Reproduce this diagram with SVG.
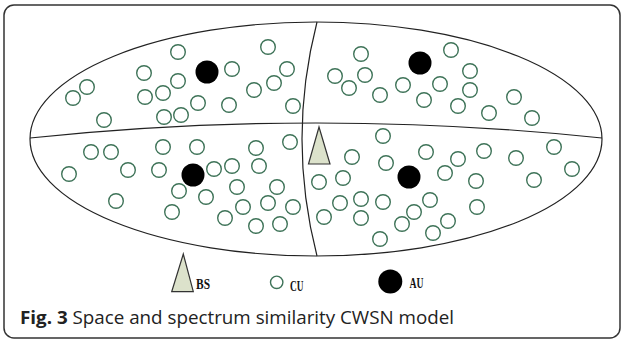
<svg xmlns="http://www.w3.org/2000/svg" width="624" height="341" viewBox="0 0 624 341">
<style>
.frame{fill:#fff;stroke:#333;stroke-width:1.5}
.line{fill:none;stroke:#222;stroke-width:1.2}
.cu{fill:#fff;stroke:#3e7358;stroke-width:1.4}
.au{fill:#000}
.bs{fill:#dce2cb;stroke:#333;stroke-width:1.2;stroke-linejoin:miter}
.lg{font-family:"Liberation Serif",serif;font-size:15px;font-weight:bold;fill:#111}
.cap{font-family:"Open Sans","Liberation Sans",sans-serif;font-size:18px;fill:#222}
</style>
<defs>
<circle id="c" r="7.3" class="cu"/>
<circle id="a" r="11.5" class="au"/>
</defs>
<rect class="frame" x="4" y="5" width="616" height="333" rx="10"/>
<g id="connectors">
<ellipse class="line" cx="316" cy="139" rx="286" ry="117"/>
<path class="line" d="M30,138 Q316,108 602,138"/>
<path class="line" d="M317,22 Q287,139 317,256"/>
</g>
<g id="region-upper-left">
<use href="#c" x="178" y="52"/><use href="#c" x="268" y="47"/><use href="#c" x="144" y="73"/>
<use href="#c" x="232" y="69"/><use href="#c" x="287" y="69"/><use href="#c" x="178" y="81"/>
<use href="#c" x="163" y="93"/><use href="#c" x="145" y="97"/><use href="#c" x="254" y="90"/>
<use href="#c" x="274" y="83"/><use href="#c" x="87" y="87"/><use href="#c" x="73" y="98"/>
<use href="#c" x="198" y="103"/><use href="#c" x="229" y="105"/><use href="#c" x="293" y="106"/>
<use href="#c" x="104" y="120"/><use href="#c" x="164" y="117"/><use href="#c" x="181" y="115"/>
<use href="#a" x="207" y="72"/>
</g>
<g id="region-upper-right">
<use href="#c" x="361" y="54"/><use href="#c" x="451" y="50"/><use href="#c" x="335" y="76"/>
<use href="#c" x="365" y="75"/><use href="#c" x="349" y="88"/><use href="#c" x="380" y="95"/>
<use href="#c" x="403" y="85"/><use href="#c" x="440" y="84"/><use href="#c" x="470" y="71"/>
<use href="#c" x="470" y="90"/><use href="#c" x="424" y="100"/><use href="#c" x="458" y="106"/>
<use href="#c" x="489" y="113"/><use href="#c" x="514" y="97"/><use href="#c" x="532" y="118"/>
<use href="#a" x="420" y="63"/>
</g>
<g id="region-lower-left">
<use href="#c" x="91" y="152"/><use href="#c" x="111" y="152"/><use href="#c" x="163" y="147"/>
<use href="#c" x="197" y="147"/><use href="#c" x="256" y="148"/><use href="#c" x="290" y="142"/>
<use href="#c" x="69" y="174"/><use href="#c" x="128" y="170"/><use href="#c" x="159" y="170"/>
<use href="#c" x="214" y="169"/><use href="#c" x="232" y="166"/><use href="#c" x="259" y="166"/>
<use href="#c" x="179" y="191"/><use href="#c" x="206" y="197"/><use href="#c" x="237" y="187"/>
<use href="#c" x="277" y="187"/><use href="#c" x="116" y="201"/><use href="#c" x="172" y="212"/>
<use href="#c" x="243" y="207"/><use href="#c" x="268" y="203"/><use href="#c" x="293" y="207"/>
<use href="#c" x="225" y="218"/><use href="#c" x="256" y="226"/><use href="#c" x="280" y="224"/>
<use href="#a" x="193" y="175"/>
</g>
<g id="region-lower-right">
<use href="#c" x="383" y="136"/><use href="#c" x="352" y="157"/><use href="#c" x="386" y="163"/>
<use href="#c" x="426" y="152"/><use href="#c" x="458" y="159"/><use href="#c" x="484" y="151"/>
<use href="#c" x="516" y="158"/><use href="#c" x="554" y="147"/><use href="#c" x="572" y="169"/>
<use href="#c" x="445" y="173"/><use href="#c" x="476" y="181"/><use href="#c" x="534" y="180"/>
<use href="#c" x="319" y="182"/><use href="#c" x="343" y="178"/><use href="#c" x="340" y="203"/>
<use href="#c" x="361" y="199"/><use href="#c" x="383" y="202"/><use href="#c" x="430" y="200"/>
<use href="#c" x="477" y="207"/><use href="#c" x="324" y="217"/><use href="#c" x="361" y="218"/>
<use href="#c" x="414" y="212"/><use href="#c" x="402" y="224"/><use href="#c" x="448" y="221"/>
<use href="#c" x="433" y="233"/><use href="#c" x="380" y="239"/>
<use href="#a" x="409" y="177"/>
</g>
<g id="bs">
<polygon class="bs" points="319,127 308.5,164 330,164"/>
</g>
<g id="legend">
<polygon class="bs" points="183.3,254 171.7,291.7 193.3,291.7"/>
<text class="lg" x="196" y="289" textLength="14" lengthAdjust="spacingAndGlyphs">BS</text>
<circle class="cu" cx="276.7" cy="282.3" r="6.2"/>
<text class="lg" x="290" y="290.7" textLength="13.5" lengthAdjust="spacingAndGlyphs">CU</text>
<circle class="au" cx="390.3" cy="281.5" r="12"/>
<text class="lg" x="409.5" y="288" textLength="14" lengthAdjust="spacingAndGlyphs">AU</text>
</g>
<text class="cap" x="20" y="323.5" textLength="434" lengthAdjust="spacingAndGlyphs"><tspan font-weight="bold">Fig. 3</tspan> Space and spectrum similarity CWSN model</text>
</svg>
